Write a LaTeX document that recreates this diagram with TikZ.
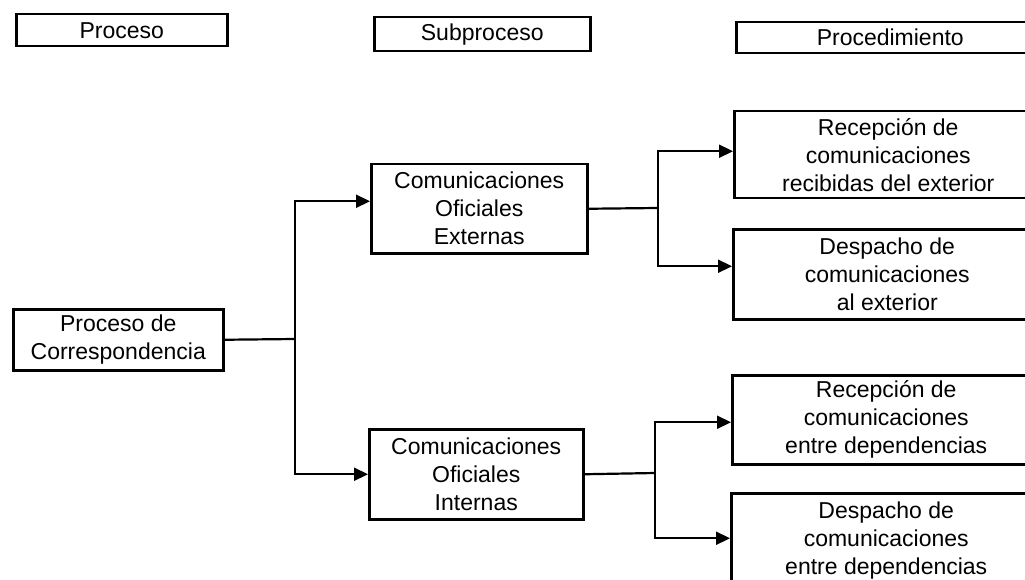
\documentclass[tikz,border=0pt]{standalone}
\usepackage{fontspec}
\setmainfont{Liberation Sans}
\usetikzlibrary{arrows.meta}
\begin{document}
\begin{tikzpicture}[x=1pt,y=-1pt,
  box/.style={draw, line width=2.5pt, inner sep=0pt, align=center, anchor=north west,
              font=\fontsize{23}{28}\selectfont},
  ln/.style={line width=2.2pt},
  arr/.style={line width=2.2pt, -{Triangle[length=14pt,width=13pt]}}]
\useasboundingbox (0,0) rectangle (1025,580);
\clip (0,0) rectangle (1025,580);
% headers
\node[box, minimum width=211pt, minimum height=32pt] (h1) at (15,13) {Proceso};
\node[box, minimum width=216pt, minimum height=34pt] (h2) at (373,16) {Subproceso};
\node[box, minimum width=308pt, minimum height=31pt] (h3) at (735,21) {Procedimiento};
% main boxes
\node[box, minimum width=210pt, minimum height=61pt] (pc) at (12,308) {Proceso de\\Correspondencia};
\node[box, minimum width=216pt, minimum height=89pt] (coe) at (370,163) {Comunicaciones\\Oficiales\\Externas};
\node[box, minimum width=214pt, minimum height=90pt] (coi) at (368,428) {Comunicaciones\\Oficiales\\Internas};
\node[box, minimum width=308pt, minimum height=87pt] (r1) at (733,110) {Recepción de\\comunicaciones\\recibidas del exterior};
\node[box, minimum width=308pt, minimum height=90pt] (d1) at (732,228) {Despacho de\\comunicaciones\\al exterior};
\node[box, minimum width=308pt, minimum height=89pt] (r2) at (731,374) {Recepción de\\comunicaciones\\entre dependencias};
\node[box, minimum width=310pt, minimum height=95pt] (d2) at (730,492) {Despacho de\\comunicaciones\\entre dependencias};
% connectors
\coordinate (j1) at (295,339);
\coordinate (j2) at (658,208);
\coordinate (j3) at (655,473);
\draw[ln] (pc.east) -- (j1);
\draw[arr] (j1) |- ([yshift=7.5pt]coe.west);
\draw[arr] (j1) |- (coi.west);
\draw[ln] (coe.east) -- (j2);
\draw[arr] (j2) |- ([yshift=3.5pt]r1.west);
\draw[arr] (j2) |- ([yshift=8pt]d1.west);
\draw[ln] (coi.east) -- (j3);
\draw[arr] (j3) |- ([yshift=-2.5pt]r2.west);
\draw[arr] (j3) |- ([yshift=2.5pt]d2.west);
\end{tikzpicture}
\end{document}
